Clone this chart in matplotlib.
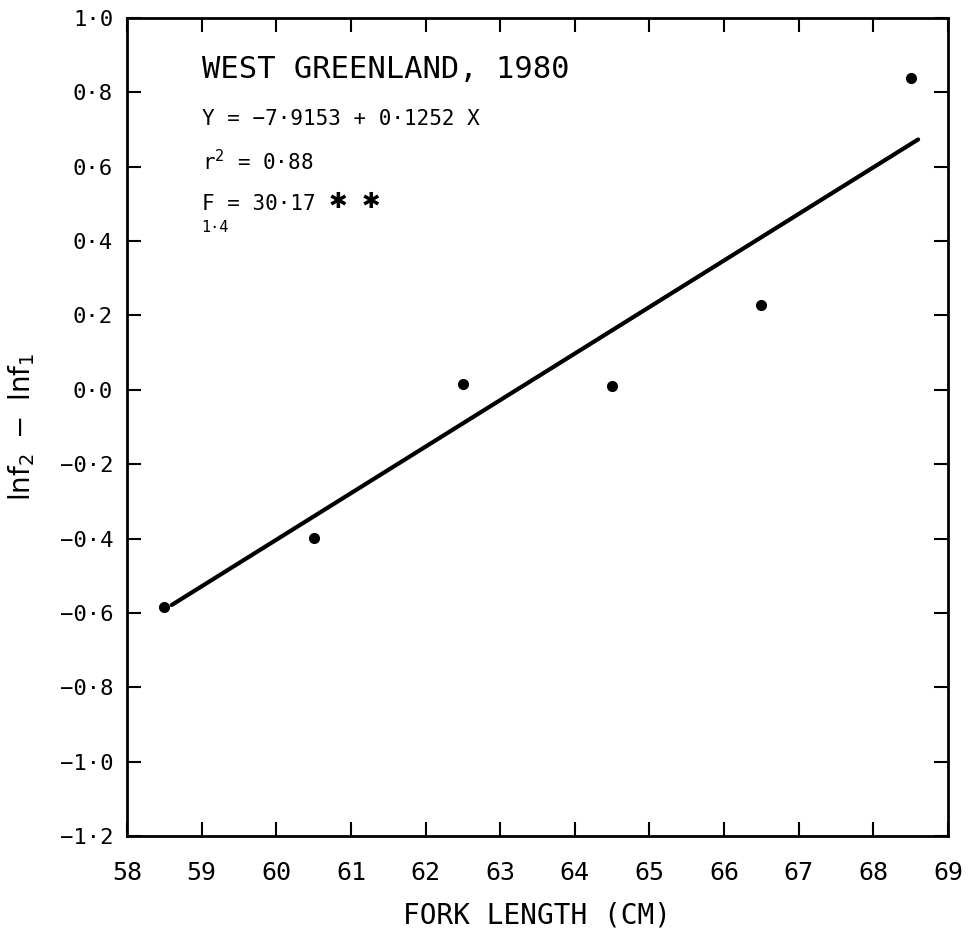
import numpy as np
import matplotlib
matplotlib.use("Agg")
import matplotlib.pyplot as plt

# fork length class midpoints (cm) and ln f2 - ln f1
fork_length = [58.5, 60.5, 62.5, 64.5, 66.5, 68.5]
ln_diff = [-0.583, -0.399, 0.015, 0.011, 0.228, 0.838]

# fitted regression
intercept = -7.9153
slope = 0.1252
fit_range = [58.6, 68.6]

x_ticks = [58, 59, 60, 61, 62, 63, 64, 65, 66, 67, 68, 69]
y_ticks = [1.0, 0.8, 0.6, 0.4, 0.2, 0.0, -0.2, -0.4, -0.6, -0.8, -1.0, -1.2]


def dot_label(v):
    s = "%.1f" % abs(v)
    s = s.replace(".", "\u00b7")
    if v < -1e-9:
        s = "\u2212" + s
    return s


plt.rcParams['font.family'] = ['DejaVu Sans Mono', 'DejaVu Sans']

fig = plt.figure(figsize=(9.68, 9.39), dpi=100)
ax = fig.add_axes([0.1312, 0.1097, 0.8481, 0.8711])

fx = np.array(fit_range)
ax.plot(fx, intercept + slope * fx, color='black', lw=3, solid_capstyle='round')
ax.plot(fork_length, ln_diff, 'o', color='black', ms=7)

ax.set_xlim(58, 69)
ax.set_ylim(-1.2, 1.0)

ax.set_xticks(x_ticks)
ax.set_xticklabels([str(t) for t in x_ticks], fontsize=18)
ax.set_yticks(y_ticks)
ax.set_yticklabels([dot_label(t) for t in y_ticks], fontsize=16)

ax.tick_params(axis='both', direction='in', length=10, width=1.5,
               top=True, right=True)
ax.tick_params(axis='x', pad=18)
ax.tick_params(axis='y', pad=10)
for sp in ax.spines.values():
    sp.set_linewidth(2)

ax.set_xlabel("FORK LENGTH (CM)", fontsize=20)
ax.xaxis.set_label_coords(0.5, -0.08)
ax.set_ylabel(r'$\mathrm{lnf_2\ -\ lnf_1}$', fontsize=20)
ax.yaxis.set_label_coords(-0.11, 0.5)

# legend block: site, regression equation, r squared, F test
ax.text(59.0, 0.838, "WEST GREENLAND, 1980", fontsize=22, va='baseline')
ax.text(59.0, 0.712, "Y = \u22127\u00b79153 + 0\u00b71252 X", fontsize=15, va='baseline')
ax.text(59.0, 0.591, "r$^{2}$ = 0\u00b788", fontsize=15, va='baseline')
ax.text(59.0, 0.484, "F = 30\u00b717", fontsize=15, va='baseline')
ax.text(60.7, 0.488, "\u2731  \u2731", fontsize=16, va='baseline',
        family=['DejaVu Sans', 'DejaVu Sans Mono'])
ax.text(59.0, 0.425, "1\u00b74", fontsize=11, va='baseline')

fig.savefig("out.png", dpi=100)
